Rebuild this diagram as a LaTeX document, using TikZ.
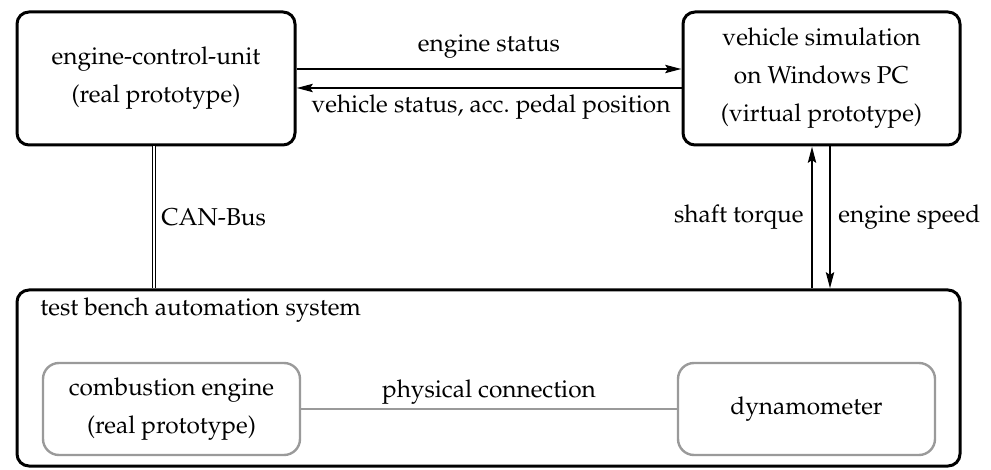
\documentclass[tikz,border=0pt]{standalone}
\usepackage[T1]{fontenc}
\usepackage{mathpazo}
\usetikzlibrary{arrows.meta}
\definecolor{boxgray}{HTML}{9A9A9A}
\tikzset{
  mainbox/.style={draw=black, line width=1.5pt, rounded corners=6pt, inner sep=0pt, align=center},
  subbox/.style={draw=boxgray, line width=1.2pt, rounded corners=8pt, inner sep=0pt, align=center},
  arr/.style={line width=1.4pt, -{Stealth[length=8pt,width=4pt,inset=1.2pt]}},
  lbl/.style={inner sep=0pt},
  txt/.style={font=\fontsize{12.2}{19}\selectfont},
}
\begin{document}
\begin{tikzpicture}[x=0.5pt,y=-0.5pt,txt]
\useasboundingbox (0,0) rectangle (991,470);
% main boxes
\node[mainbox, minimum width=139pt, minimum height=66.5pt] (ecu) at (156,78.5)
  {engine-control-unit\\(real prototype)};
\node[mainbox, minimum width=138.5pt, minimum height=66.5pt] (veh) at (821.5,78.5)
  {vehicle simulation\\on Windows PC\\(virtual prototype)};
\node[mainbox, minimum width=471.5pt, minimum height=88pt] (tb) at (488.5,378) {};
\node[lbl, anchor=base west] (tbl) at (40,315) {test bench automation system};
% sub boxes
\node[subbox, minimum width=128.5pt, minimum height=46pt] (ce) at (171.5,409)
  {combustion engine\\(real prototype)};
\node[subbox, minimum width=128.5pt, minimum height=46pt] (dyn) at (806.5,409)
  {dynamometer};
% helper coordinates
\coordinate (es) at (0,69);
\coordinate (vs) at (0,88);
\coordinate (can) at (154,0);
\coordinate (st) at (812,0);
\coordinate (sp) at (830,0);
% horizontal arrows
\draw[arr] (ecu.east |- es) -- (veh.west |- es);
\draw[arr] (veh.west |- vs) -- (ecu.east |- vs);
\node[lbl, anchor=base] (esl) at (489,52) {engine status};
\node[lbl, anchor=base] (vsl) at (491,113) {vehicle status, acc.\ pedal position};
% CAN bus
\draw[double=white, double distance=0.7pt, line width=0.6pt] (ecu.south -| can) -- (tb.north -| can);
\node[lbl, anchor=west] (canl) at (161,217) {CAN-Bus};
% vertical arrows
\draw[arr] (tb.north -| st) -- (veh.south -| st);
\draw[arr] (veh.south -| sp) -- (tb.north -| sp);
\node[lbl, anchor=east] (stl) at (804,217) {shaft torque};
\node[lbl, anchor=west] (spl) at (838,217) {engine speed};
% physical connection
\draw[draw=boxgray, line width=1.2pt] (ce.east) -- (dyn.west);
\node[lbl, anchor=base] (pcl) at (489,398) {physical connection};
\end{tikzpicture}
\end{document}
